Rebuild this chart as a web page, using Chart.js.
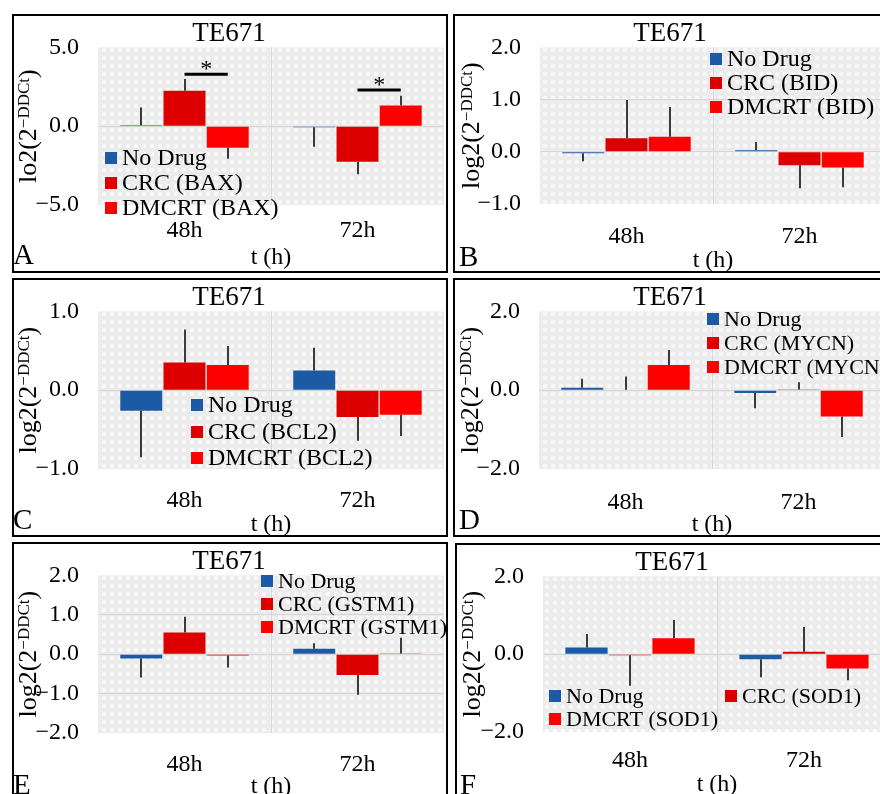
<!DOCTYPE html>
<html><head><meta charset="utf-8">
<script src="https://cdn.jsdelivr.net/npm/chart.js@4.4.1/dist/chart.umd.min.js"></script>
<style>
html,body{margin:0;padding:0;background:#fff;overflow:hidden;width:880px;height:794px;}
#fig{position:relative;width:880px;height:794px;overflow:hidden;background:#fff;}
.panel{position:absolute;width:436px;height:259px;}
.panel canvas{position:absolute;left:0;top:0;}
.frame{position:absolute;left:0;top:0;width:436px;height:259px;border:2px solid #000;box-sizing:border-box;pointer-events:none;}
</style></head>
<body><div id="fig"></div>
<script>
const FONT = "'Liberation Serif','Times New Roman',serif";

// ---------- data ----------
const categories = ['48h', '72h'];
const groups = ['No Drug', 'CRC', 'DMCRT'];
const cellLine = 'TE671';
const xTitle = 't (h)';

// Panel A - BAX  (rows: No Drug, CRC, DMCRT ; cols: 48h, 72h)
const baxMeans  = [[0.06, -0.06], [2.25, -2.25], [-1.37, 1.31]];
const baxErrors = [[1.13, 1.25], [0.75, 0.80], [0.70, 0.63]];
const baxTicks  = [-5, 0, 5];
const baxSigLevels = [3.3, 2.3];   // significance bracket height per category (CRC vs DMCRT)
const baxSigLabels = ['*', '*'];

// Panel B - BID
const bidMeans  = [[-0.03, 0.03], [0.26, -0.26], [0.29, -0.30]];
const bidErrors = [[0.15, 0.16], [0.73, 0.44], [0.57, 0.38]];
const bidTicks  = [-1, 0, 1, 2];

// Panel C - BCL2
const bcl2Means  = [[-0.26, 0.25], [0.35, -0.34], [0.32, -0.31]];
const bcl2Errors = [[0.59, 0.29], [0.42, 0.30], [0.24, 0.27]];
const bcl2Ticks  = [-1, 0, 1];

// Panel D - MYCN
const mycnMeans  = [[0.06, -0.07], [0.01, 0.02], [0.64, -0.67]];
const mycnErrors = [[0.23, 0.39], [0.34, 0.18], [0.38, 0.52]];
const mycnTicks  = [-2, 0, 2];

// Panel E - GSTM1
const gstm1Means  = [[-0.11, 0.14], [0.55, -0.53], [-0.03, 0.02]];
const gstm1Errors = [[0.48, 0.14], [0.40, 0.50], [0.31, 0.40]];
const gstm1Ticks  = [-2, -1, 0, 1, 2];

// Panel F - SOD1
const sod1Means  = [[0.17, -0.13], [-0.03, 0.06], [0.41, -0.37]];
const sod1Errors = [[0.35, 0.46], [0.78, 0.64], [0.47, 0.30]];
const sod1Ticks  = [-2, 0, 2];

// ---------- styling / layout ----------
const colors = ['#1c5aa6', '#dc0000', '#ff0000'];
const W = 436, H = 259;

const panels = [
  {letter:'A', gene:'BAX',   means:baxMeans,   errors:baxErrors,   ticks:baxTicks,   yPrefix:'lo2(2',
   box:[12,14],  plot:[86,31,432,191], legend:[[110,144],[110,169],[110,194]], legendSize:24, letterX:1, letterY:250, yTitleX:16,
   xPad:11, xTitleY:244, sig:{levels:baxSigLevels, labels:baxSigLabels}},
  {letter:'B', gene:'BID',   means:bidMeans,   errors:bidErrors,   ticks:bidTicks,   yPrefix:'log2(2',
   box:[453,14], plot:[87,30,433,190], legend:[[274,45],[274,69],[274,93]], legendSize:24, letterX:6, letterY:252, yTitleX:18,
   xPad:18, xTitleY:247},
  {letter:'C', gene:'BCL2',  means:bcl2Means,  errors:bcl2Errors,  ticks:bcl2Ticks,  yPrefix:'log2(2',
   box:[12,278], plot:[86,32,432,191], legend:[[196,127],[196,154],[196,180]], legendSize:24, letterX:1, letterY:251, yTitleX:16,
   xPad:17, xTitleY:247},
  {letter:'D', gene:'MYCN',  means:mycnMeans,  errors:mycnErrors,  ticks:mycnTicks,  yPrefix:'log2(2',
   box:[453,278], plot:[86,31,432,191], legend:[[271,41],[271,65],[271,89]], legendSize:22, letterX:6, letterY:251, yTitleX:17,
   xPad:19, xTitleY:247},
  {letter:'E', gene:'GSTM1', means:gstm1Means, errors:gstm1Errors, ticks:gstm1Ticks, yPrefix:'log2(2',
   box:[12,542], plot:[86,31,432,191], legend:[[266,39],[266,62],[266,85]], legendSize:22, letterX:1, letterY:252, yTitleX:16,
   xPad:17, xTitleY:245},
  {letter:'F', gene:'SOD1',  means:sod1Means,  errors:sod1Errors,  ticks:sod1Ticks,  yPrefix:'log2(2',
   box:[455,543], plot:[88,30,438,189], legend:[[111,153],[287,153],[111,176]], legendSize:22, letterX:5, letterY:251, yTitleX:17,
   xPad:14, xTitleY:242}
];

function makePattern(ctx){
  const c = document.createElement('canvas'); c.width = 8; c.height = 8;
  const g = c.getContext('2d');
  g.fillStyle = '#ebebeb'; g.fillRect(0,0,8,8);
  g.fillStyle = '#f8f8f8';
  g.beginPath(); g.arc(4,4,2.3,0,Math.PI*2); g.fill();
  g.fillStyle = '#f2f2f2';
  g.fillRect(0,0,1.5,1.5);
  return ctx.createPattern(c, 'repeat');
}

const decor = {
  id: 'decor',
  beforeDraw(chart, args, o){
    const {ctx, chartArea:a} = chart;
    ctx.save();
    ctx.fillStyle = makePattern(ctx);
    ctx.fillRect(a.left, a.top, a.right - a.left, a.bottom - a.top);
    ctx.restore();
  },
  afterDatasetsDraw(chart, args, o){
    const {ctx} = chart; const ys = chart.scales.y;
    ctx.save();
    ctx.strokeStyle = '#3a3a3a'; ctx.lineWidth = 2;
    o.means.forEach((row, i) => {
      const meta = chart.getDatasetMeta(i);
      row.forEach((v, j) => {
        const bar = meta.data[j]; if (!bar) return;
        const dir = v < 0 ? -1 : 1;
        const y0 = ys.getPixelForValue(v), y1 = ys.getPixelForValue(v + dir * o.errors[i][j]);
        const x = Math.round(bar.x);
        ctx.beginPath(); ctx.moveTo(x, y0); ctx.lineTo(x, y1); ctx.stroke();
      });
    });
    if (o.sig){
      ctx.strokeStyle = '#000'; ctx.lineWidth = 3; ctx.fillStyle = '#000';
      ctx.font = '24px ' + FONT; ctx.textAlign = 'center'; ctx.textBaseline = 'alphabetic';
      o.sig.levels.forEach((lvl, j) => {
        const xa = chart.getDatasetMeta(1).data[j].x, xb = chart.getDatasetMeta(2).data[j].x;
        const y = ys.getPixelForValue(lvl);
        ctx.beginPath(); ctx.moveTo(xa, y); ctx.lineTo(xb, y); ctx.stroke();
        ctx.fillText(o.sig.labels[j], (xa + xb) / 2, y + 2);
      });
    }
    ctx.restore();
  },
  afterDraw(chart, args, o){
    const {ctx, chartArea:a} = chart;
    ctx.save();
    ctx.fillStyle = '#000';
    // title
    ctx.font = '27px ' + FONT; ctx.textAlign = 'center'; ctx.textBaseline = 'middle';
    ctx.fillText(o.title, 217, 20);
    // x axis title
    ctx.font = '24px ' + FONT;
    ctx.fillText(o.xTitle, (a.left + a.right) / 2, o.xTitleY);
    // panel letter
    ctx.font = '29px ' + FONT; ctx.textAlign = 'left'; ctx.textBaseline = 'alphabetic';
    ctx.fillText(o.letter, o.letterX, o.letterY);
    // y axis title with superscript
    const main = '26px ' + FONT, small = '17px ' + FONT;
    const t1 = o.yPrefix, t2 = '\u2212DDCt', t3 = ')';
    ctx.font = main; const w1 = ctx.measureText(t1).width, w3 = ctx.measureText(t3).width;
    ctx.font = small; const w2 = ctx.measureText(t2).width;
    const tot = w1 + w2 + w3;
    ctx.translate(o.yTitleX, (a.top + a.bottom) / 2);
    ctx.rotate(-Math.PI / 2);
    let x = -tot / 2; const b = 8;
    ctx.font = main; ctx.fillText(t1, x, b); x += w1;
    ctx.font = small; ctx.fillText(t2, x, b - 7); x += w2;
    ctx.font = main; ctx.fillText(t3, x, b);
    ctx.restore();
    // legend
    ctx.save();
    ctx.font = o.legendSize + 'px ' + FONT; ctx.textAlign = 'left'; ctx.textBaseline = 'middle';
    chart.data.datasets.forEach((ds, i) => {
      const [tx, ty] = o.legend[i];
      ctx.fillStyle = ds.backgroundColor;
      ctx.fillRect(tx - 17, ty - 6, 12, 12);
      ctx.fillStyle = '#000';
      ctx.fillText(ds.label, tx, ty + 1);
    });
    ctx.restore();
  }
};

function fmt(v){ return (v < 0 ? '\u2212' : '') + Math.abs(v).toFixed(1); }

const fig = document.getElementById('fig');
panels.forEach(p => {
  const div = document.createElement('div'); div.className = 'panel';
  div.style.left = p.box[0] + 'px'; div.style.top = p.box[1] + 'px';
  const cv = document.createElement('canvas'); cv.width = W; cv.height = H;
  cv.style.width = W + 'px'; cv.style.height = H + 'px';
  div.appendChild(cv);
  const fr = document.createElement('div'); fr.className = 'frame'; div.appendChild(fr);
  fig.appendChild(div);

  const [pl, pt, pr, pb] = p.plot;
  const yMin = p.ticks[0], yMax = p.ticks[p.ticks.length - 1];
  new Chart(cv, {
    type: 'bar',
    data: {
      labels: categories,
      datasets: groups.map((g, i) => ({
        label: i === 0 ? g : g + ' (' + p.gene + ')',
        data: p.means[i],
        backgroundColor: colors[i],
        borderWidth: 0,
        categoryPercentage: 0.75,
        barPercentage: 0.97
      }))
    },
    options: {
      responsive: false, animation: false, devicePixelRatio: 1,
      layout: { padding: { left: 0, top: pt, right: W - pr, bottom: 0 } },
      plugins: {
        legend: { display: false }, tooltip: { enabled: false }, title: { display: false },
        decor: { means: p.means, errors: p.errors, title: cellLine, xTitle: xTitle, xTitleY: p.xTitleY,
                 letter: p.letter, letterX: p.letterX, letterY: p.letterY, yTitleX: p.yTitleX,
                 yPrefix: p.yPrefix, legend: p.legend, legendSize: p.legendSize, sig: p.sig }
      },
      scales: {
        x: {
          grid: { drawTicks: false, offset: true, color: c => c.index === 1 ? '#d6d6d6' : 'rgba(0,0,0,0)' },
          border: { display: false },
          ticks: { color: '#000', font: { family: FONT, size: 24 }, padding: p.xPad },
          afterFit: s => { s.height = H - pb; }
        },
        y: {
          min: yMin, max: yMax,
          afterBuildTicks: s => { s.ticks = p.ticks.map(v => ({ value: v })); },
          grid: { drawTicks: false, color: c => (c.tick && (c.tick.value === yMin || c.tick.value === yMax)) ? 'rgba(0,0,0,0)' : '#d6d6d6' },
          border: { display: false },
          ticks: { color: '#000', font: { family: FONT, size: 24 }, padding: 19, callback: v => fmt(v) },
          afterFit: s => { s.width = pl; }
        }
      }
    },
    plugins: [decor]
  });
});
</script>
</body></html>
